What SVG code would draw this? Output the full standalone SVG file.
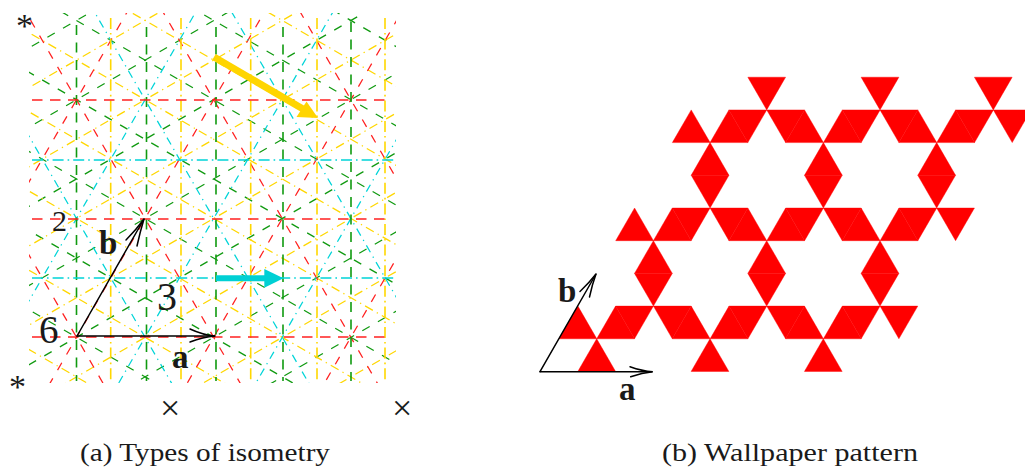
<svg xmlns="http://www.w3.org/2000/svg" xmlns:xlink="http://www.w3.org/1999/xlink" width="1025" height="474" viewBox="0 0 1025 474">
<style>
text{font-family:"Liberation Serif","DejaVu Serif",serif;fill:#1a1a1a}
.b{font-weight:bold}
.l{fill:none;stroke-width:1.25}
.re{stroke:#ff2020;stroke-dasharray:8.5 9.5}
.gr{stroke:#109a10;stroke-dasharray:8.5 9.5}
.ye{stroke:#ffd700;stroke-dasharray:9 4.5 1.3 4.5}
.cy{stroke:#00d4d8;stroke-dasharray:8 5 1.3 5}
.v{stroke-width:1.6}
.hr{stroke:#ff2020;stroke-dasharray:10.5 7.5}
.vg{stroke:#109a10;stroke-dasharray:10 7.5}
.vy{stroke:#ffd700;stroke-dasharray:11 4 1.6 4}
.hc{stroke:#00d4d8;stroke-dasharray:11 4 1.6 4}
.tile{fill:#ff0000;stroke:#ff0000;stroke-width:.4}
.ar{fill:none;stroke:#000;stroke-width:1.5;stroke-linecap:round}
</style>
<defs>
<clipPath id="box"><rect x="29" y="13" width="367" height="370"/></clipPath>
<g id="reds" class="l re">
<path d="M-300 -237.6H750M-300 -118.8H750M-300 0H750M-300 118.8H750M-300 237.6H750M-300 356.4H750M-300 -356.4H750" transform="translate(0,218.5)"/>
</g>
<g id="cyans-up" class="l cy">
<path d="M-300 -59.4H750M-300 59.4H750M-300 178.2H750" transform="translate(0,218.5)"/>
</g>
<g id="cyans-down" class="l cy">
<path d="M-300 -178.2H750M-300 -59.4H750M-300 59.4H750" transform="translate(0,218.5)"/>
</g>
<g id="greens" class="l gr">
<path d="M0 -300V750M68.6 -300V750M137.2 -300V750M205.8 -300V750M274.4 -300V750M343 -300V750M411.6 -300V750M-68.6 -300V750M-137.2 -300V750M-205.8 -300V750M-274.4 -300V750M-343 -300V750M-411.6 -300V750" transform="translate(145.1,0)"/>
</g>
<g id="yellows" class="l ye">
<path d="M34.3 -300V750M102.9 -300V750M171.5 -300V750M240.1 -300V750M308.7 -300V750M377.3 -300V750M445.9 -300V750M-34.3 -300V750M-102.9 -300V750M-171.5 -300V750M-240.1 -300V750M-308.7 -300V750M-377.3 -300V750M-445.9 -300V750" transform="translate(145.1,0)"/>
</g>
<polygon id="u" class="tile" points="0,0 -18.9,32.7 18.9,32.7"/>
<polygon id="d" class="tile" points="0,0 37.8,0 18.9,32.7"/>
<g id="row">
<use href="#u" x="577.9"/><use href="#u" x="615.6"/><use href="#u" x="691.2"/><use href="#u" x="729"/><use href="#u" x="804.5"/><use href="#u" x="842.3"/>
<use href="#d" x="615.6"/><use href="#d" x="653.4"/><use href="#d" x="729"/><use href="#d" x="766.7"/><use href="#d" x="842.3"/><use href="#d" x="880"/>
</g>
<g id="rhombi">
<use href="#u" x="653.4" y="0"/><use href="#d" x="634.5" y="32.7"/>
<use href="#u" x="766.7" y="0"/><use href="#d" x="747.8" y="32.7"/>
<use href="#u" x="880" y="0"/><use href="#d" x="861.1" y="32.7"/>
</g>
</defs>

<g id="isometry-lines" clip-path="url(#box)">
<use href="#greens" transform="rotate(60 145.1 218.5)"/>
<use href="#greens" transform="rotate(-60 145.1 218.5)"/>
<use href="#yellows" transform="rotate(60 145.1 218.5)"/>
<use href="#yellows" transform="rotate(-60 145.1 218.5)"/>
<use href="#reds" transform="rotate(60 145.1 218.5)"/>
<use href="#reds" transform="rotate(-60 145.1 218.5)"/>
<use href="#cyans-down" transform="rotate(60 145.1 218.5)"/>
<use href="#cyans-up" transform="rotate(-60 145.1 218.5)"/>
<g class="l v vg">
<path d="M76.5 25V381M146.5 27V381M216 27V381M283 27V381M351 22V381"/>
</g>
<g class="l v vy">
<path d="M110.7 18V381M181 18V381M250.7 18V381M317 18V381M385 18V381"/>
</g>
<g class="l v hr">
<path d="M32 100H385M32 219H385M32 337H385"/>
</g>
<g class="l v hc">
<path d="M32 160H395M32 278H395"/>
</g>
</g>

<g id="glide-arrows">
<path d="M214 57L303 109" stroke="#ffd500" stroke-width="7" fill="none"/>
<polygon points="318,118 306.5,101.5 296.5,117" fill="#ffd500"/>
<path d="M216 278.3H266" stroke="#00d0d4" stroke-width="6" fill="none"/>
<polygon points="283.5,278.3 264.3,269 264.3,287.7" fill="#00d0d4"/>
</g>

<g id="basis-a">
<path class="ar" d="M77 336H215"/>
<path class="ar" d="M190 329Q203 335 215 336Q203 337 190 342"/>
<path class="ar" d="M77 336L144 219"/>
<path class="ar" d="M126 240Q136 230 144 219Q140 232 137 246"/>
</g>

<g id="labels-a">
<text x="16" y="37" font-size="34">*</text>
<text x="9" y="398" font-size="34">*</text>
<text x="52" y="231" font-size="30">2</text>
<text class="b" x="99" y="254" font-size="33">b</text>
<text x="157" y="310" font-size="40">3</text>
<text x="39" y="343" font-size="39">6</text>
<text class="b" x="172" y="368" font-size="33">a</text>
<text x="160" y="420" font-size="36">×</text>
<text x="392" y="420" font-size="36">×</text>
<text x="80" y="461" font-size="25" textLength="250" lengthAdjust="spacingAndGlyphs">(a) Types of isometry</text>
</g>

<g id="wallpaper">
<use href="#row" y="306.1"/>
<use href="#row" x="56.67" y="208"/>
<use href="#row" x="113.33" y="109.9"/>
<use href="#rhombi" y="240.7"/>
<use href="#rhombi" x="56.67" y="142.6"/>
<use href="#u" x="596.7" y="338.8"/><use href="#u" x="710" y="338.8"/><use href="#u" x="823.3" y="338.8"/>
<use href="#d" x="747.8" y="77.2"/><use href="#d" x="861.1" y="77.2"/><use href="#d" x="974.4" y="77.2"/>
</g>

<g id="basis-b">
<path class="ar" d="M540 371.7H652"/>
<path class="ar" d="M630 366.7Q642 371 652.7 371.7Q642 372.5 630.7 376.7"/>
<path class="ar" d="M540 371.7L596 274"/>
<path class="ar" d="M580 291.5Q589 283 596 274Q592 285 589.5 297"/>
</g>

<g id="labels-b">
<text class="b" x="558" y="302" font-size="33">b</text>
<text class="b" x="619" y="400" font-size="33">a</text>
<text x="662" y="461" font-size="25" textLength="256" lengthAdjust="spacingAndGlyphs">(b) Wallpaper pattern</text>
</g>
</svg>
